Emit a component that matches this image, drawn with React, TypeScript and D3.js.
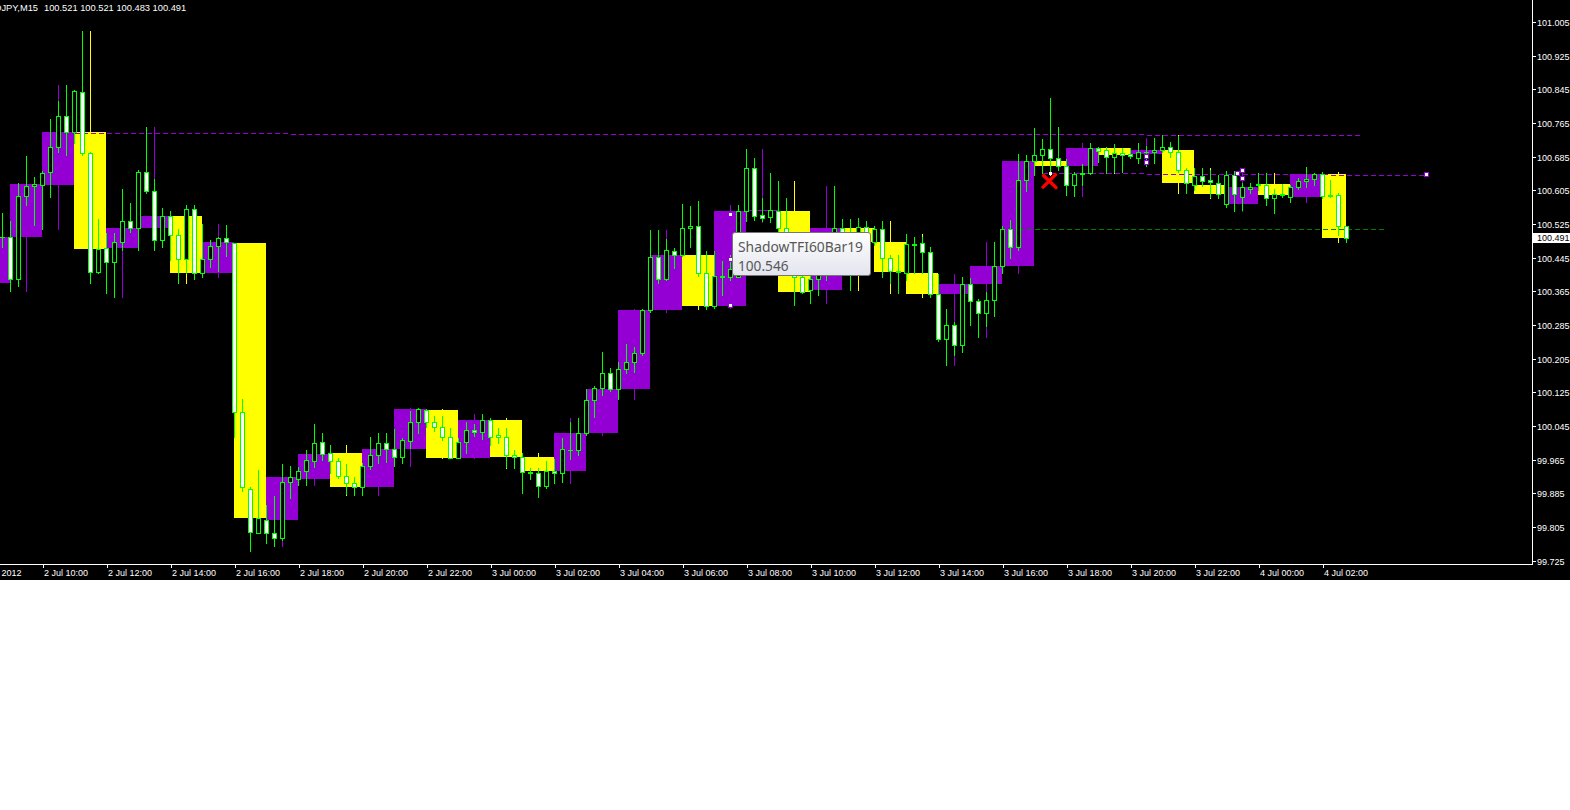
import React from "react";
import * as d3 from "d3";

// ---------- DATA ----------
const symbol = "USDJPY,M15";
// first M15 bar: 2 Jul 2012 08:00 (UTC), one bar every 15 minutes
const firstBarTime = Date.UTC(2012, 6, 2, 8, 0);

const opens = [
  100.384, 100.428, 100.475, 100.494, 100.495, 100.394, 100.592, 100.615,
  100.618, 100.648, 100.707, 100.781, 100.743, 100.838, 100.693, 100.410,
  100.467, 100.434, 100.482, 100.532, 100.515, 100.648, 100.603, 100.486,
  100.543, 100.499, 100.441, 100.560, 100.408, 100.441, 100.472, 100.491,
  100.480, 100.079, 99.895, 99.790, 99.822, 99.790, 99.778, 99.911,
  99.920, 99.939, 99.963, 100.006, 99.980, 99.963, 99.926, 99.909,
  99.901, 99.951, 99.977, 100.004, 99.990, 99.971, 100.010, 100.054,
  100.083, 100.054, 100.043, 100.018, 99.970, 100.006, 100.035, 100.030,
  100.059, 100.023, 100.018, 99.976, 99.971, 99.935, 99.934, 99.903,
  99.937, 99.933, 99.989, 99.988, 100.028, 100.106, 100.136, 100.170,
  100.132, 100.180, 100.196, 100.218, 100.320, 100.446, 100.394, 100.461,
  100.451, 100.515, 100.521, 100.409, 100.330, 100.402, 100.398, 100.400,
  100.557, 100.657, 100.546, 100.541, 100.557, 100.515, 100.451, 100.400,
  100.368, 100.394, 100.403, 100.463, 100.515, 100.497, 100.506, 100.517,
  100.483, 100.513, 100.444, 100.414, 100.409, 100.477, 100.479, 100.459,
  100.359, 100.251, 100.284, 100.238, 100.382, 100.343, 100.313, 100.345,
  100.425, 100.513, 100.470, 100.630, 100.675, 100.688, 100.703, 100.683,
  100.663, 100.618, 100.644, 100.646, 100.705, 100.700, 100.684, 100.693,
  100.691, 100.683, 100.695, 100.696, 100.701, 100.709, 100.695, 100.653,
  100.617, 100.638, 100.630, 100.623, 100.573, 100.642, 100.590, 100.608,
  100.619, 100.618, 100.586, 100.596, 100.590, 100.612, 100.628, 100.632,
  100.643, 100.592, 100.593, 100.521,
];
const highs = [
  100.440, 100.487, 100.535, 100.551, 100.531, 100.622, 100.687, 100.636,
  100.651, 100.775, 100.817, 100.855, 100.844, 100.984, 100.695, 100.537,
  100.503, 100.504, 100.608, 100.575, 100.653, 100.755, 100.632, 100.563,
  100.556, 100.513, 100.570, 100.570, 100.525, 100.487, 100.495, 100.523,
  100.480, 100.109, 99.901, 99.941, 99.857, 99.879, 99.955, 99.950,
  99.947, 99.988, 100.050, 100.028, 100.000, 99.968, 99.955, 99.924,
  99.957, 100.018, 100.028, 100.028, 100.037, 100.016, 100.081, 100.087,
  100.086, 100.069, 100.069, 100.040, 100.016, 100.055, 100.050, 100.074,
  100.063, 100.040, 100.040, 99.988, 99.980, 99.945, 99.945, 99.963,
  99.966, 100.016, 100.055, 100.064, 100.132, 100.140, 100.221, 100.182,
  100.196, 100.239, 100.232, 100.324, 100.511, 100.511, 100.489, 100.467,
  100.573, 100.568, 100.580, 100.461, 100.461, 100.437, 100.451, 100.570,
  100.703, 100.681, 100.586, 100.646, 100.627, 100.586, 100.475, 100.411,
  100.406, 100.435, 100.487, 100.616, 100.537, 100.537, 100.539, 100.531,
  100.520, 100.531, 100.451, 100.451, 100.501, 100.495, 100.495, 100.471,
  100.406, 100.322, 100.293, 100.399, 100.396, 100.346, 100.364, 100.482,
  100.520, 100.535, 100.691, 100.689, 100.754, 100.726, 100.825, 100.756,
  100.679, 100.649, 100.668, 100.718, 100.709, 100.709, 100.714, 100.705,
  100.705, 100.718, 100.710, 100.729, 100.737, 100.721, 100.734, 100.657,
  100.657, 100.657, 100.653, 100.642, 100.652, 100.651, 100.622, 100.622,
  100.646, 100.647, 100.608, 100.619, 100.618, 100.634, 100.661, 100.646,
  100.648, 100.630, 100.598, 100.521,
];
const lows = [
  100.368, 100.416, 100.463, 100.470, 100.367, 100.378, 100.569, 100.523,
  100.513, 100.590, 100.697, 100.689, 100.718, 100.689, 100.386, 100.408,
  100.360, 100.352, 100.463, 100.507, 100.463, 100.598, 100.463, 100.470,
  100.440, 100.384, 100.409, 100.394, 100.398, 100.424, 100.414, 100.450,
  100.020, 99.891, 99.749, 99.790, 99.768, 99.760, 99.774, 99.873,
  99.905, 99.905, 99.948, 99.964, 99.933, 99.922, 99.884, 99.881,
  99.881, 99.942, 99.957, 99.960, 99.950, 99.957, 99.993, 100.028,
  100.043, 100.034, 100.012, 99.968, 99.969, 99.980, 100.022, 100.014,
  100.000, 100.005, 99.947, 99.945, 99.887, 99.918, 99.877, 99.898,
  99.909, 99.913, 99.966, 99.976, 100.024, 100.067, 100.119, 100.129,
  100.109, 100.170, 100.174, 100.214, 100.317, 100.386, 100.392, 100.420,
  100.448, 100.471, 100.402, 100.322, 100.325, 100.356, 100.392, 100.398,
  100.531, 100.535, 100.531, 100.530, 100.499, 100.435, 100.333, 100.360,
  100.337, 100.356, 100.392, 100.451, 100.487, 100.368, 100.487, 100.475,
  100.475, 100.398, 100.384, 100.362, 100.392, 100.408, 100.408, 100.352,
  100.247, 100.190, 100.214, 100.222, 100.285, 100.256, 100.283, 100.306,
  100.409, 100.444, 100.463, 100.603, 100.642, 100.646, 100.647, 100.653,
  100.594, 100.592, 100.618, 100.645, 100.673, 100.646, 100.649, 100.649,
  100.681, 100.671, 100.663, 100.669, 100.697, 100.685, 100.649, 100.599,
  100.606, 100.615, 100.590, 100.586, 100.566, 100.556, 100.558, 100.598,
  100.606, 100.569, 100.552, 100.590, 100.577, 100.608, 100.614, 100.618,
  100.586, 100.588, 100.499, 100.483,
];
const closes = [
  100.428, 100.475, 100.494, 100.495, 100.394, 100.592, 100.615, 100.619,
  100.646, 100.707, 100.781, 100.743, 100.841, 100.693, 100.410, 100.466,
  100.434, 100.482, 100.532, 100.515, 100.648, 100.603, 100.486, 100.543,
  100.499, 100.441, 100.560, 100.408, 100.441, 100.472, 100.491, 100.482,
  100.079, 99.899, 99.793, 99.826, 99.790, 99.778, 99.911, 99.923,
  99.937, 99.964, 100.004, 99.979, 99.963, 99.926, 99.909, 99.901,
  99.951, 99.977, 100.004, 99.991, 99.971, 100.012, 100.055, 100.086,
  100.054, 100.043, 100.018, 99.970, 100.006, 100.035, 100.030, 100.059,
  100.018, 100.018, 99.976, 99.971, 99.935, 99.934, 99.903, 99.937,
  99.933, 99.990, 99.988, 100.028, 100.106, 100.136, 100.170, 100.132,
  100.180, 100.196, 100.218, 100.320, 100.446, 100.394, 100.463, 100.451,
  100.515, 100.521, 100.409, 100.330, 100.402, 100.398, 100.417, 100.557,
  100.657, 100.544, 100.539, 100.558, 100.515, 100.451, 100.400, 100.364,
  100.394, 100.403, 100.463, 100.515, 100.497, 100.506, 100.517, 100.483,
  100.513, 100.444, 100.414, 100.412, 100.477, 100.476, 100.459, 100.359,
  100.251, 100.284, 100.238, 100.382, 100.343, 100.313, 100.345, 100.425,
  100.513, 100.470, 100.630, 100.675, 100.688, 100.703, 100.683, 100.663,
  100.618, 100.644, 100.646, 100.705, 100.699, 100.684, 100.693, 100.688,
  100.687, 100.695, 100.696, 100.701, 100.709, 100.695, 100.653, 100.622,
  100.639, 100.628, 100.625, 100.596, 100.642, 100.596, 100.614, 100.613,
  100.618, 100.586, 100.596, 100.594, 100.612, 100.628, 100.632, 100.643,
  100.592, 100.593, 100.521, 100.491,
];

const priceTicks = [
  101.005, 100.925, 100.845, 100.765, 100.685, 100.605, 100.525, 100.445,
  100.365, 100.285, 100.205, 100.125, 100.045, 99.965, 99.885, 99.805, 99.725,
];
const timeTickLabels = [
  "2 Jul 2012", "2 Jul 10:00", "2 Jul 12:00", "2 Jul 14:00", "2 Jul 16:00",
  "2 Jul 18:00", "2 Jul 20:00", "2 Jul 22:00", "3 Jul 00:00", "3 Jul 02:00",
  "3 Jul 04:00", "3 Jul 06:00", "3 Jul 08:00", "3 Jul 10:00", "3 Jul 12:00",
  "3 Jul 14:00", "3 Jul 16:00", "3 Jul 18:00", "3 Jul 20:00", "3 Jul 22:00",
  "4 Jul 00:00", "4 Jul 02:00",
];

const T = (d: number, h: number, m: number) => Date.UTC(2012, 6, d, h, m);
// horizontal level lines: [start, end, price, colour]
const levelLines: [number, number, number, string][] = [
  [T(2, 11, 0), T(2, 17, 45), 100.742, "#9400d3"],
  [T(2, 17, 45), T(3, 7, 15), 100.740, "#9400d3"],
  [T(3, 7, 15), T(3, 20, 30), 100.738, "#9400d3"],
  [T(3, 20, 30), T(4, 3, 15), 100.736, "#9400d3"],
  [T(3, 17, 15), T(3, 20, 30), 100.646, "#9400d3"],
  [T(3, 20, 30), T(4, 2, 15), 100.643, "#9400d3"],
  [T(4, 2, 15), T(4, 5, 15), 100.641, "#9400d3"],
  [T(3, 16, 30), T(4, 4, 0), 100.513, "#008000"],
];
// selection handles: [time, price]
const handles: [number, number][] = [
  [T(3, 7, 30), 100.546], [T(3, 7, 30), 100.440], [T(3, 7, 30), 100.330],
  [T(3, 20, 30), 100.684], [T(3, 20, 30), 100.670],
  [T(3, 23, 30), 100.651], [T(3, 23, 30), 100.632], [T(3, 23, 22.5), 100.644],
  [T(4, 5, 15), 100.641],
];
const crossMark: [number, number] = [T(3, 17, 30), 100.627];
const crossAnchor: [number, number] = [T(3, 17, 30), 100.647];
const tooltipName = "ShadowTFI60Bar19";
const tooltipValue = 100.546;

// ---------- LAYOUT ----------
const W = 1570;
const H = 810;
const PR = 1532; // plot right
const PB = 564; // plot bottom
const BLACK_B = 580;
const PURPLE = "#9400d3";
const YELLOW = "#ffff00";
const LIME = "#00ff00";
const FONT = "'Liberation Sans', Arial, sans-serif";
const M15 = 15 * 60 * 1000;

const x = d3
  .scaleUtc()
  .domain([new Date(T(2, 10, 0)), new Date(T(2, 12, 0))])
  .range([42.5, 106.5]);
const y = d3.scaleLinear().domain([99.725, 101.005]).range([560.7, 22]);

type Bar = { t: number; o: number; h: number; l: number; c: number };
const bars: Bar[] = opens.map((o, i) => ({
  t: firstBarTime + i * M15,
  o,
  h: highs[i],
  l: lows[i],
  c: closes[i],
}));
const lastT = bars[bars.length - 1].t;

const hourly = d3
  .groups(bars, (b) => d3.utcHour.floor(new Date(b.t)).getTime())
  .map(([t, g]) => ({
    t,
    end: Math.min(t + 4 * M15, lastT),
    o: g[0].o,
    c: g[g.length - 1].c,
    h: d3.max(g, (b) => b.h) as number,
    l: d3.min(g, (b) => b.l) as number,
  }));

const R = (v: number) => Math.round(v);
const fmt = d3.format(".3f");

export default function App() {
  const last = bars[bars.length - 1];
  return (
    <svg
      width={W}
      height={H}
      style={{ position: "absolute", left: 0, top: 0, display: "block", background: "#fff" }}
    >
      <defs>
        <clipPath id="plot">
          <rect x={0} y={0} width={PR} height={PB} />
        </clipPath>
        <linearGradient id="tipGrad" x1="0" y1="0" x2="0" y2="1">
          <stop offset="0%" stopColor="#ffffff" />
          <stop offset="100%" stopColor="#e3e4ee" />
        </linearGradient>
      </defs>
      <rect x={0} y={0} width={W} height={BLACK_B} fill="#000" />

      <g clipPath="url(#plot)" shapeRendering="crispEdges">
        {/* hourly shadow boxes */}
        {hourly.map((b, i) => {
          const col = b.c >= b.o ? PURPLE : YELLOW;
          const x0 = x(new Date(b.t)) - 0.5;
          const x1 = x(new Date(b.end)) - 0.5;
          const yt = R(y(Math.max(b.o, b.c)));
          const yb = Math.max(R(y(Math.min(b.o, b.c))), yt + 1);
          return <rect key={"hb" + i} x={x0} y={yt} width={x1 - x0} height={yb - yt} fill={col} />;
        })}
        {hourly.map((b, i) => {
          const col = b.c >= b.o ? PURPLE : YELLOW;
          const xm = x(new Date(b.t + 2 * M15));
          return (
            <line key={"hw" + i} x1={xm} x2={xm} y1={R(y(b.h))} y2={R(y(b.l)) + 1} stroke={col} strokeWidth={1} />
          );
        })}
        {/* level lines */}
        {levelLines.map(([t0, t1, p, col], i) => (
          <line
            key={"lv" + i}
            x1={x(new Date(t0))}
            x2={x(new Date(t1))}
            y1={R(y(p)) + 0.5}
            y2={R(y(p)) + 0.5}
            stroke={col}
            strokeWidth={1}
            strokeDasharray="5,3"
          />
        ))}
        {/* M15 candles */}
        {bars.map((b, i) => {
          const cx = x(new Date(b.t));
          const yt = R(y(Math.max(b.o, b.c))) + 0.5;
          const yb = R(y(Math.min(b.o, b.c))) + 0.5;
          const bull = b.c > b.o;
          return (
            <g key={"c" + i}>
              <line x1={cx} x2={cx} y1={R(y(b.h))} y2={R(y(b.l)) + 1} stroke={LIME} strokeWidth={1} />
              {yb - yt < 1 ? (
                <line x1={cx - 2.5} x2={cx + 2.5} y1={yt} y2={yt} stroke={LIME} strokeWidth={1} />
              ) : (
                <rect
                  x={cx - 2}
                  y={yt}
                  width={4}
                  height={yb - yt}
                  fill={bull ? "#000" : "#fff"}
                  stroke={LIME}
                  strokeWidth={1}
                />
              )}
            </g>
          );
        })}
        {/* selection handles */}
        {handles.map(([t, p], i) => (
          <rect
            key={"hd" + i}
            x={Math.round(x(new Date(t))) - 2.5}
            y={R(y(p)) - 2.5}
            width={4}
            height={4}
            fill="#fff"
            stroke={PURPLE}
            strokeWidth={1}
          />
        ))}
        <rect x={x(new Date(crossAnchor[0])) - 1.5} y={R(y(crossAnchor[1])) - 1.5} width={3} height={3} fill="#fff" />
      </g>

      {/* red cross marker */}
      {(() => {
        const cx = x(new Date(crossMark[0])) - 1;
        const cy = y(crossMark[1]);
        return (
          <path
            d={`M${cx - 6},${cy - 5.5} L${cx + 6.5},${cy + 6.5} M${cx + 6},${cy - 6.5} L${cx - 6.5},${cy + 6}`}
            stroke="#ff0000"
            strokeWidth={3.4}
            strokeLinecap="round"
            fill="none"
          />
        );
      })()}

      {/* frame */}
      <g shapeRendering="crispEdges" stroke="#fff" strokeWidth={1}>
        <line x1={PR + 0.5} x2={PR + 0.5} y1={0} y2={PB + 1} />
        <line x1={0} x2={PR + 1} y1={PB + 0.5} y2={PB + 0.5} />
      </g>

      {/* price axis */}
      <g fontFamily={FONT} fontSize={9} fill="#fff">
        {priceTicks.map((p, i) => {
          const yy = R(y(p)) + 0.5;
          return (
            <g key={"pt" + i}>
              <line x1={PR + 1} x2={PR + 4} y1={yy} y2={yy} stroke="#fff" shapeRendering="crispEdges" />
              <text x={PR + 5} y={yy + 3.3}>
                {fmt(p)}
              </text>
            </g>
          );
        })}
        <rect x={PR + 1} y={R(y(last.c)) - 5} width={W - PR - 1} height={10} fill="#fff" />
        <text x={PR + 5} y={R(y(last.c)) + 3.3} fill="#000">
          {fmt(last.c)}
        </text>
      </g>

      {/* time axis */}
      <g fontFamily={FONT} fontSize={9} fill="#fff">
        {timeTickLabels.map((lab, i) => {
          const xx = Math.round(x(new Date(T(2, 8, 0) + i * 8 * M15)));
          return (
            <g key={"tt" + i}>
              <line x1={xx + 0.5} x2={xx + 0.5} y1={PB + 1} y2={PB + 4} stroke="#fff" shapeRendering="crispEdges" />
              <text x={xx + 1} y={576}>
                {lab}
              </text>
            </g>
          );
        })}
      </g>

      {/* header */}
      <g fontFamily={FONT} fontSize={9.3} fill="#fff">
        <text x={38} y={11} textAnchor="end">
          {symbol}
        </text>
        <text x={44} y={11}>
          {[last.o, last.h, last.l, last.c].map(fmt).join(" ")}
        </text>
      </g>

      {/* tooltip */}
      <g>
        <rect x={732.5} y={232.5} width={138} height={43} rx={2.5} fill="url(#tipGrad)" stroke="#767676" />
        <text
          x={738}
          y={252}
          fontFamily="'Noto Sans', 'Open Sans', sans-serif"
          fontSize={15}
          fill="#575757"
          textLength={125}
          lengthAdjust="spacingAndGlyphs"
        >
          {tooltipName}
        </text>
        <text
          x={738}
          y={270.5}
          fontFamily="'Noto Sans', 'Open Sans', sans-serif"
          fontSize={15}
          fill="#575757"
          textLength={50.5}
          lengthAdjust="spacingAndGlyphs"
        >
          {fmt(tooltipValue)}
        </text>
      </g>
    </svg>
  );
}
